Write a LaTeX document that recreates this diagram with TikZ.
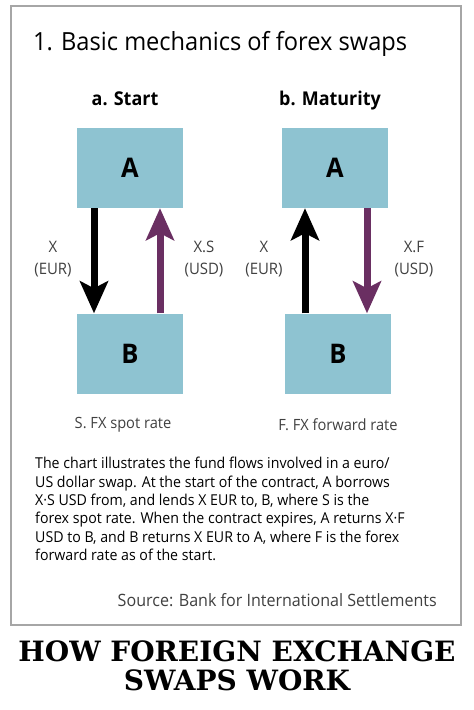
\documentclass[tikz,border=0pt]{standalone}
\usepackage{fontspec}
\setmainfont{Open Sans}[FakeStretch=0.945]
\newfontfamily\slabfont{DejaVu Serif}
\usetikzlibrary{arrows.meta}

\definecolor{boxteal}{HTML}{8EC3D1}
\definecolor{flowpurple}{HTML}{6A2F62}
\definecolor{labelgray}{HTML}{404040}

\begin{document}
\begin{tikzpicture}[x=1pt,y=-1pt,
	party/.style={fill=boxteal,minimum width=106pt,minimum height=80pt,
		font=\fontsize{27}{27}\selectfont\bfseries,inner sep=0pt},
	flow/.style={line width=7pt,-{Stealth[length=32pt,width=28pt,inset=7pt]}},
	amount/.style={font=\fontsize{15.8}{22}\selectfont,text=labelgray,align=center},
	rate/.style={font=\fontsize{15.5}{15.5}\selectfont,text=labelgray},
	heading/.style={anchor=base,font=\fontsize{19}{19}\selectfont\bfseries}]
	\useasboundingbox (0,0) rectangle (474,710);
	\fill[white] (0,0) rectangle (474,710);

	\draw[gray!70,line width=1.5pt] (11,6) rectangle (461,625);

	\node[anchor=base west,inner sep=0pt,font=\fontsize{25}{25}\selectfont] (title) at (33,50)
		{1. Basic mechanics of forex swaps};

	\node[heading] (hstart) at (125,105) {a. Start};
	\node[heading] (hmat) at (330,105) {b. Maturity};

	% parties
	\node[party] (aStart) at (130,168) {A};
	\node[party] (bStart) at (130,353.5) {B};
	\node[party] (aMat) at (335,168) {A};
	\node[party] (bMat) at (338,353.5) {B};

	% flows at the start
	\draw[flow] ([xshift=-36pt]aStart.south) -- ([xshift=-36pt]aStart.south |- bStart.north);
	\draw[flow,flowpurple] ([xshift=30pt]aStart.south |- bStart.north) -- ([xshift=30pt]aStart.south);

	% flows at maturity
	\draw[flow] ([xshift=-30pt]aMat.south |- bMat.north) -- ([xshift=-30pt]aMat.south);
	\draw[flow,flowpurple] ([xshift=32pt]aMat.south) -- ([xshift=32pt]aMat.south |- bMat.north);

	\node[amount] (xs1) at (53,259) {X\\(EUR)};
	\node[amount] (xs2) at (204,259) {X.S\\(USD)};
	\node[amount] (xm1) at (264,259) {X\\(EUR)};
	\node[amount] (xm2) at (414,259) {X.F\\(USD)};

	\node[rate] (spot) at (123,425) {S. FX spot rate};
	\node[rate] (fwd) at (338,425) {F. FX forward rate};

	\node[anchor=north west,align=left,inner sep=0pt,
		font=\fontsize{15}{18.4}\selectfont] (note) at (35,457)
		{The chart illustrates the fund flows involved in a euro/\\
		US dollar swap. At the start of the contract, A borrows\\
		X·S USD from, and lends X EUR to, B, where S is the\\
		forex spot rate. When the contract expires, A returns X·F\\
		USD to B, and B returns X EUR to A, where F is the forex\\
		forward rate as of the start.};

	\node[anchor=base east,inner sep=0pt,font=\fontsize{17}{17}\selectfont,text=labelgray] (source) at (437,606)
		{Source: Bank for International Settlements};

	\node[align=center,font=\slabfont\fontsize{28}{28.5}\selectfont\bfseries] (caption) at (237,666)
		{HOW FOREIGN EXCHANGE\\SWAPS WORK};
\end{tikzpicture}
\end{document}
